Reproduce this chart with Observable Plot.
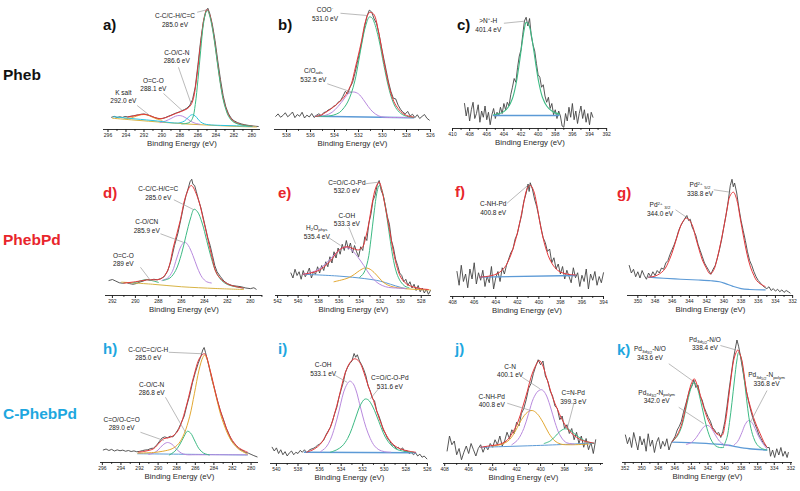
<!DOCTYPE html>
<html><head><meta charset="utf-8">
<script src="https://cdn.jsdelivr.net/npm/d3@7"></script>
<script src="https://cdn.jsdelivr.net/npm/@observablehq/plot@0.6"></script>
<style>
body{margin:0;background:#fff;font-family:"Liberation Sans",Arial,sans-serif;}
#root{position:relative;width:800px;height:491px;overflow:hidden;background:#fff;}
.pan{position:absolute;}
.row{position:absolute;font-weight:bold;font-size:15.5px;line-height:16px;white-space:nowrap;}
.let{position:absolute;font-weight:bold;font-size:15px;line-height:15px;}
.ann{position:absolute;font-size:6.5px;color:#222;text-align:center;line-height:8.5px;white-space:nowrap;transform:translate(-50%,-50%);}
.ann sub,.ann sup{font-size:4.4px;line-height:0;vertical-align:baseline;position:relative;}
.ann sub{top:1.4px;}
.ann sup{top:-2.6px;}
.ann sub sub{top:1px;font-size:3.8px;}
</style></head>
<body><div id="root"></div>
<script>
// ---------- colours ----------
const RAW = "#444444", FIT = "#e5383b", GREEN = "#3dba84", PURPLE = "#b98ade", CYAN = "#2cc3de", ORANGE = "#e3a832", BLUE = "#5c9ad6", YEL = "#d8b445";

// ---------- tick labels ----------
const a_ticks = [296,294,292,290,288,286,284,282,280];
const b_ticks = [538,536,534,532,530,528,526];
const c_ticks = [410,408,406,404,402,400,398,396,394,392];
const d_ticks = [292,290,288,286,284,282,280];
const e_ticks = [542,540,538,536,534,532,530,528];
const f_ticks = [408,406,404,402,400,398,396,394];
const g_ticks = [350,348,346,344,342,340,338,336,334,332];
const h_ticks = [296,294,292,290,288,286,284,282,280];
const i_ticks = [540,538,536,534,532,530,528,526];
const j_ticks = [408,406,404,402,400,398,396];
const k_ticks = [352,350,348,346,344,342,340,338,336,334,332];

// ---------- a) Pheb C1s ----------
const a_raw = [[295.6,9.8],[295.3,10.5],[295.0,9.6],[294.7,10.2],[294.4,9.7],[294.1,10.4],[293.8,10.1],[293.5,10.6],[293.2,10.9],[292.9,11.4],[292.6,11.8],[292.3,12.2],[292.0,12.4],[291.7,12.0],[291.4,11.3],[291.1,10.4],[290.8,9.5],[290.5,8.9],[290.2,8.6],[289.9,8.9],[289.6,9.6],[289.3,10.6],[289.0,11.4],[288.7,12.4],[288.4,13.3],[288.1,14.0],[287.8,15.0],[287.5,16.0],[287.2,17.2],[286.9,19.5],[286.6,24],[286.3,34],[286.0,52],[285.7,71],[285.4,86],[285.1,95],[284.9,97],[284.7,93],[284.4,84],[284.1,71],[283.8,55],[283.5,40],[283.2,27],[282.9,18],[282.6,12.5],[282.3,9],[282.0,7],[281.6,5.5],[281.2,4.5],[280.8,3.8],[280.4,3.3],[280.0,2.9],[279.6,2.6],[279.3,2.4]];
const a_fit = [[293.8,10.0],[293.2,10.8],[292.6,11.7],[292.0,12.2],[291.4,11.2],[290.8,9.6],[290.2,8.7],[289.6,9.5],[289.0,11.2],[288.4,13.0],[287.8,14.6],[287.2,16.6],[286.8,19.5],[286.5,25],[286.2,38],[285.9,56],[285.6,75],[285.3,90],[285.0,96],[284.7,92],[284.4,82],[284.1,68],[283.8,52],[283.5,37],[283.2,25],[282.9,17],[282.6,11.5],[282.2,7.5],[281.8,5.5],[281.2,4.0],[280.6,3.2],[280.0,2.8]];
const a_CC = [[287.8,4.5],[287.0,5.5],[286.6,9],[286.3,20],[286.0,40],[285.7,63],[285.4,84],[285.1,94],[284.9,95],[284.7,91],[284.4,81],[284.1,67],[283.8,51],[283.5,36],[283.2,24],[282.9,16],[282.6,10.5],[282.2,6.8],[281.8,5],[281.2,3.7],[280.6,3],[280.0,2.6]];
const a_CO = [[295.4,10.2],[293.0,8.5],[290.5,6.8],[288.6,5.2],[288.0,5.4],[287.5,6.8],[287.1,9.5],[286.8,11.5],[286.6,11.8],[286.3,10.8],[286.0,8.3],[285.7,6.0],[285.3,4.5],[284.8,3.8],[283.5,3.3],[282.0,3.0],[280.0,2.5]];
const a_OCO = [[290.2,5.5],[289.6,6.8],[289.0,8.8],[288.5,10.6],[288.1,11.2],[287.7,10.6],[287.2,8.6],[286.8,6.6],[286.3,5.0],[285.8,4.2]];
const a_K = [[294.2,8.7],[293.4,9.4],[292.8,10.8],[292.3,11.8],[292.0,12.0],[291.6,11.5],[291.1,10.0],[290.5,8.2],[290.0,7.4]];
const a_bg = [[295.5,9.0],[293.0,7.5],[290.0,5.8],[287.0,4.3],[284.0,3.2],[281.0,2.3],[279.5,2.0]];
const a_notes = [{E:288.5,u:87.2,t:"C-C/C-H/C=C<br>285.0 eV"},{E:288.3,u:58,t:"C-O/C-N<br>286.6 eV"},{E:290.9,u:35.6,t:"O=C-O<br>288.1 eV"},{E:294.24,u:26,t:"K salt<br>292.0 eV"}];
const a_lead = [[286.09,93.8,285.0,95.8],[288.17,49.8,286.76,20.6],[289.83,28.8,287.76,15.2],[292.76,19.2,291.5,12]];

// ---------- b) Pheb O1s ----------
const b_raw = [[538.9,10.5],[538.7,12.5],[538.5,9.8],[538.3,11.2],[538.1,13.4],[537.9,10.2],[537.7,11.8],[537.5,14.0],[537.3,9.5],[537.1,12.0],[536.9,10.6],[536.7,13.8],[536.5,9.2],[536.3,11.5],[536.1,10.0],[535.9,12.8],[535.7,9.6],[535.5,11.4],[535.3,12.6],[535.1,11.0],[534.9,13.5],[534.7,14.2],[534.5,15.8],[534.3,16.5],[534.1,18.5],[533.9,19.2],[533.7,21.8],[533.5,23.0],[533.3,26.5],[533.1,30.5],[532.9,28.8],[532.7,34.0],[532.5,37.5],[532.3,45.0],[532.1,53.5],[531.9,62.0],[531.7,71.5],[531.5,82.0],[531.3,90.5],[531.1,95.5],[530.9,94.0],[530.7,88.5],[530.5,85.0],[530.3,77.0],[530.1,66.5],[529.9,57.0],[529.7,47.5],[529.5,38.0],[529.3,30.5],[529.1,25.0],[528.9,24.5],[528.7,19.5],[528.5,16.2],[528.3,13.8],[528.1,12.5],[527.9,14.5],[527.7,10.8],[527.5,12.2],[527.3,9.5],[527.1,11.8],[526.9,8.8],[526.7,10.5],[526.5,12.0],[526.3,9.0],[526.1,7.5]];
const b_fit = [[535.6,10.5],[535.2,11.2],[534.6,14.5],[534.1,17.9],[533.6,22],[533.2,25.9],[532.9,30.5],[532.6,36.5],[532.25,50],[531.8,68.5],[531.4,87],[531.1,93.5],[530.75,92.5],[530.3,76.5],[529.9,55],[529.5,36.5],[529.2,26],[528.9,19.5],[528.5,14.5],[528.2,12.2],[527.8,10.6],[527.4,9.9]];
const b_COO = [[535.6,10.5],[534.5,10.8],[534.1,11.5],[533.6,13.5],[533.2,17.5],[532.9,22],[532.6,29],[532.3,39],[532.0,54],[531.7,70],[531.4,83],[531.1,90],[530.9,89.5],[530.7,86],[530.3,72],[529.9,52],[529.5,34],[529.2,24],[528.9,17.5],[528.5,13],[528.2,11.3],[527.8,10.1],[527.4,9.6]];
const b_Oads = [[535.6,10.5],[534.8,11.2],[534.2,13.8],[533.7,18.5],[533.2,24.5],[532.8,29],[532.4,30],[532.0,28.5],[531.6,24],[531.2,18.5],[530.8,14],[530.3,10.8],[529.8,9.8],[528.5,9.6],[527.4,9.5]];
const b_bg = [[535.6,10.6],[527.4,9.4]];
const b_notes = [{E:534.75,u:92,t:"COO<sup>-</sup><br>531.0 eV"},{E:535.72,u:43.2,t:"C/O<sub>ads</sub><br>532.5 eV"}];
const b_lead = [[533.5,93,531.28,91.2],[534.6,36.6,532.53,29.8]];

// ---------- c) Pheb N1s ----------
const c_raw = [[408.6,20],[408.4,10],[408.2,17],[408.0,6],[407.8,15],[407.6,21],[407.4,8],[407.2,12],[407.0,19],[406.8,5],[406.6,14],[406.4,9],[406.2,18],[406.0,7],[405.8,13],[405.6,3],[405.4,11],[405.2,16],[405.0,8],[404.8,13],[404.6,10],[404.4,17],[404.2,12],[404.0,20],[403.8,15],[403.6,21],[403.4,18],[403.2,27],[403.0,33],[402.8,40],[402.6,37],[402.4,49],[402.2,58],[402.0,63],[401.8,75],[401.6,86],[401.4,89],[401.2,82],[401.0,88],[400.8,74],[400.6,67],[400.4,62],[400.2,52],[400.0,43],[399.8,41],[399.6,33],[399.4,35],[399.2,26],[399.0,21],[398.8,25],[398.6,16],[398.4,20],[398.2,11],[398.0,15],[397.8,8],[397.6,14],[397.4,10],[397.2,2],[397.0,1],[396.8,12],[396.6,6],[396.4,17],[396.2,9],[396.0,20],[395.8,7],[395.6,14],[395.4,4],[395.2,12],[395.0,18],[394.8,8],[394.6,15],[394.4,5],[394.2,12],[394.0,3],[393.8,13],[393.6,9]];
const c_fit = [[405.2,11],[404.5,12],[404.0,13.5],[403.5,17],[403.0,24],[402.6,35],[402.2,52],[401.9,67],[401.6,80],[401.4,85],[401.1,83],[400.8,75],[400.5,62],[400.2,48],[399.9,36],[399.5,25],[399.0,18],[398.5,14.5],[398.0,12.5],[397.5,11.5]];
const c_bg = [[405.2,10.4],[397.6,10.4]];
const c_notes = [{E:405.76,u:82.4,t:"&gt;N<sup>+</sup>-H<br>401.4 eV"}];
const c_lead = [[404.0,84.2,401.67,85.8]];

// ---------- d) PhebPd C1s ----------
const d_raw = [[292.3,12],[292.0,12.8],[291.7,11.5],[291.4,10.2],[291.1,9.8],[290.8,10.4],[290.5,9.5],[290.2,9.0],[289.9,9.6],[289.6,10.8],[289.3,11.6],[289.0,12.8],[288.7,12.2],[288.4,13.0],[288.1,12.6],[287.8,13.5],[287.5,15.0],[287.2,19.5],[286.9,28],[286.6,40],[286.3,50],[286.0,63],[285.8,72],[285.6,80],[285.4,86],[285.25,91],[285.1,93],[285.0,89],[284.85,88],[284.7,83],[284.5,76],[284.3,70],[284.1,62],[283.9,54],[283.7,46],[283.5,40],[283.3,32],[283.1,24],[282.9,19],[282.6,15],[282.3,11.5],[282.0,9.5],[281.6,8],[281.2,7.5],[280.8,7],[280.4,6],[280.0,5.5],[279.7,6.2],[279.5,5.0]];
const d_fit = [[291.0,9.9],[290.0,11],[289.0,12.5],[287.8,13.3],[287.2,20],[286.7,38.7],[286.1,60],[285.65,78.7],[285.15,88],[284.6,78.7],[284.0,57],[283.4,33],[282.9,17],[282.0,9.3],[280.6,5.9]];
const d_CC = [[287.6,12],[287.0,14],[286.5,20],[286.0,33],[285.6,48],[285.2,62],[284.9,69],[284.6,67],[284.2,58],[283.8,44],[283.4,30],[283.0,19],[282.5,12],[282.0,8.8],[281.3,7],[280.6,6]];
const d_CO = [[287.7,12],[287.2,14],[286.8,19],[286.4,30],[286.0,40],[285.7,42.7],[285.4,40],[285.0,32],[284.6,22],[284.2,14.5],[283.8,11],[283.4,10]];
const d_OCO = [[290.2,10],[289.6,11.5],[289.1,12.8],[288.6,12],[288.0,10.5]];
const d_bg = [[291.2,10.7],[288.5,9],[286.0,7],[283.0,5.6],[280.6,4.8]];
const d_notes = [{E:287.97,u:81.4,t:"C-C/C-H/C=C<br>285.0 eV"},{E:288.97,u:55.2,t:"C-O/CN<br>285.9 eV"},{E:291.0,u:28.2,t:"O=C-O<br>289 eV"}];
const d_lead = [[286.66,76.6,284.92,68.6],[287.82,49.4,285.84,42.6],[289.56,22.6,288.69,12]];

// ---------- e) PhebPd O1s ----------
const e_raw = [[540.7,18],[540.5,14],[540.3,21],[540.1,16],[539.9,19],[539.7,13],[539.5,20],[539.3,15],[539.1,18],[538.9,22],[538.7,14],[538.5,19],[538.3,17],[538.1,23],[537.9,18],[537.7,24],[537.5,20],[537.3,27],[537.1,23],[536.9,31],[536.7,26],[536.5,35],[536.3,30],[536.1,38],[535.9,33],[535.7,41],[535.5,36],[535.3,44],[535.1,37],[534.9,42],[534.7,34],[534.5,40],[534.3,35],[534.1,31],[533.9,39],[533.7,36],[533.5,47],[533.3,44],[533.1,58],[532.9,65],[532.7,76],[532.5,80],[532.3,88],[532.1,92],[531.9,84],[531.7,80],[531.5,72],[531.3,63],[531.1,57],[530.9,44],[530.7,38],[530.5,29],[530.3,24],[530.1,18],[529.9,16],[529.7,11],[529.5,13],[529.3,8],[529.1,11],[528.9,6],[528.7,9],[528.5,4],[528.3,8],[528.1,3],[527.9,6],[527.7,2],[527.5,5],[527.3,1],[527.1,4]];
const e_fit = [[539.5,17],[538.8,18],[538.0,20],[537.5,22.7],[536.8,28],[536.2,34.7],[535.7,38],[535.2,39],[534.6,37.5],[534.1,36.5],[533.7,39],[533.4,46.7],[533.1,58],[532.8,73],[532.4,87],[532.1,90.7],[531.8,83],[531.5,70.7],[531.1,53],[530.8,38.7],[530.4,24],[530.0,14.7],[529.4,9],[528.7,6.7],[528.0,5.4],[527.3,4.8]];
const e_H2O = [[539.5,17],[538.5,19],[537.8,22],[537.0,28],[536.3,34],[535.7,38],[535.3,38.5],[534.8,36.5],[534.2,31],[533.6,24],[533.0,16.5],[532.4,11],[531.8,8],[531.2,6.5],[530.5,6],[529.5,5.5]];
const e_COH = [[536.5,11],[535.5,13],[535.0,14.5],[534.5,17],[534.0,20],[533.5,22],[533.1,21.5],[532.6,18.5],[532.1,14],[531.6,10],[531.0,7.5],[530.3,6.2],[529.3,5.3],[528.3,4.8],[527.1,4.4]];
const e_CO = [[534.0,14.5],[533.6,18],[533.2,28],[532.9,45],[532.6,66],[532.3,83],[532.1,88],[531.9,86],[531.6,76],[531.3,60],[531.0,43],[530.7,28],[530.4,18],[530.0,11],[529.6,7.5],[529.2,6.2]];
const e_bg = [[539.5,17],[536.0,15.5],[533.5,13.5],[532.0,11.5],[531.0,9],[530.0,6.5],[529.4,5.5]];
const e_notes = [{E:535.2,u:86.6,t:"C=O/C-O-Pd<br>532.0 eV"},{E:535.2,u:60.2,t:"C-OH<br>533.3 eV"},{E:538.13,u:50.4,t:"H<sub>2</sub>O<sub>phys</sub><br>535.4 eV"}];
const e_lead = [[533.42,89.4,532.22,90.6],[535.05,54.6,534.4,41.4],[537.0,46.2,535.86,40]];

// ---------- f) PhebPd N1s ----------
const f_raw = [[407.6,20],[407.4,9],[407.2,25],[407.0,12],[406.8,18],[406.6,7],[406.4,22],[406.2,14],[406.0,27],[405.8,10],[405.6,19],[405.4,13],[405.2,21],[405.0,8],[404.8,16],[404.6,11],[404.4,24],[404.2,6],[404.0,15],[403.8,20],[403.6,12],[403.4,23],[403.2,18],[403.0,25],[402.8,30],[402.6,35],[402.4,38],[402.2,46],[402.0,50],[401.8,58],[401.6,65],[401.4,76],[401.2,82],[401.0,90],[400.9,84],[400.8,91],[400.6,86],[400.4,78],[400.2,72],[400.0,64],[399.8,55],[399.6,47],[399.4,43],[399.2,36],[399.0,38],[398.8,27],[398.6,31],[398.4,22],[398.2,26],[398.0,18],[397.8,24],[397.6,14],[397.4,21],[397.2,16],[397.0,11],[396.8,23],[396.6,15],[396.4,19],[396.2,8],[396.0,17],[395.8,12],[395.6,22],[395.4,6],[395.2,18],[395.0,13],[394.8,20],[394.6,9],[394.4,16],[394.2,11],[394.0,19]];
const f_fit = [[405.5,15.5],[404.5,16.5],[403.8,18.5],[403.2,23],[402.7,31],[402.2,44],[401.8,58],[401.4,75],[401.1,86],[400.8,89],[400.5,85],[400.2,74],[399.9,59],[399.5,43],[399.0,30],[398.5,23],[398.0,19.5],[397.3,17.8],[396.6,17.2]];
const f_bg = [[405.5,15.5],[396.6,16.8]];
const f_notes = [{E:404.19,u:70.2,t:"C-NH-Pd<br>400.8 eV"}];
const f_lead = [[402.95,74.6,401.04,88.8]];

// ---------- g) PhebPd Pd3d ----------
const g_raw = [[351.0,24],[350.75,18],[350.5,21],[350.25,15],[350.0,19],[349.75,14],[349.5,20],[349.25,16],[349.0,13],[348.75,18],[348.5,15],[348.25,19],[348.0,16],[347.75,20],[347.5,18],[347.25,22],[347.0,21],[346.75,26],[346.5,28],[346.25,33],[346.0,37],[345.75,41],[345.5,46],[345.25,52],[345.0,56],[344.75,59],[344.5,62],[344.3,64],[344.1,60],[343.9,61],[343.7,55],[343.5,52],[343.25,48],[343.0,41],[342.75,36],[342.5,31],[342.25,26],[342.0,23],[341.75,20],[341.5,17],[341.25,21],[341.0,24],[340.75,30],[340.5,37],[340.25,45],[340.0,55],[339.75,64],[339.5,75],[339.25,88],[339.05,93],[338.9,87],[338.75,90],[338.5,82],[338.25,70],[338.0,60],[337.75,52],[337.5,44],[337.25,35],[337.0,28],[336.75,24],[336.5,19],[336.25,15],[336.0,12],[335.75,10],[335.5,8],[335.25,6.5],[335.0,5.5],[334.75,7],[334.5,4],[334.25,5.5],[334.0,3.5],[333.75,5],[333.5,3],[333.25,4.5],[333.0,2.5],[332.75,4],[332.5,3],[332.3,2]];
const g_fit = [[348.75,14.7],[348.0,15.5],[347.0,20],[346.3,29],[345.8,38.7],[345.3,50],[344.8,58.7],[344.3,62],[343.7,56.8],[343.3,47],[342.9,37.3],[342.5,28.5],[342.1,22.7],[341.6,17.3],[341.2,20],[340.8,28.8],[340.4,41],[340.0,54.7],[339.6,70],[339.3,79.5],[338.9,82.7],[338.5,76.8],[338.1,62],[337.7,46.7],[337.3,33],[336.9,22.7],[336.5,16],[336.2,12],[335.7,9],[335.2,7.2]];
const g_bg = [[348.75,14.7],[347.0,13.8],[345.0,13],[343.0,12.4],[341.5,11.8],[340.5,11],[339.8,9.5],[339.0,7.5],[338.0,5.5],[337.0,4.8],[335.2,4.5]];
const g_notes = [{E:342.71,u:84.6,t:"Pd<sup>2+</sup> <sub>5/2</sub><br>338.8 eV"},{E:347.36,u:68.6,t:"Pd<sup>2+</sup> <sub>3/2</sub><br>344.0 eV"}];
const g_lead = [[341.17,84.6,339.22,82.6],[345.62,68.6,344.26,62.2]];

// ---------- h) C-PhebPd C1s ----------
const h_raw = [[295.9,10],[295.6,10.8],[295.3,9.6],[295.0,10.5],[294.7,9.2],[294.4,10.1],[294.1,9.4],[293.8,9.9],[293.5,9.0],[293.2,9.6],[292.9,8.8],[292.6,9.3],[292.3,8.6],[292.0,8.9],[291.7,9.5],[291.4,10.0],[291.1,10.2],[290.8,11.2],[290.5,11.5],[290.2,13.5],[289.9,16.5],[289.6,19.5],[289.3,20.5],[289.0,19.8],[288.7,21.0],[288.4,20.5],[288.1,23.5],[287.8,27.0],[287.5,32.0],[287.2,37.0],[286.9,46.0],[286.6,54.0],[286.3,64.0],[286.0,72.0],[285.7,79.0],[285.4,85.0],[285.2,90.0],[285.05,92.0],[284.9,88.0],[284.7,82.0],[284.5,76.0],[284.2,66.0],[283.9,58.0],[283.6,49.0],[283.3,41.0],[283.0,35.0],[282.7,28.0],[282.4,23.0],[282.1,17.5],[281.8,15.0],[281.5,12.5],[281.2,10.5],[280.9,9.5],[280.6,8.0],[280.3,7.5],[280.0,6.5],[279.7,5.5],[279.35,4.5]];
const h_fit = [[292.1,8.3],[291.3,9.2],[290.5,11],[289.9,15.5],[289.4,19],[288.9,19.8],[288.5,20.8],[288.0,24],[287.6,29.6],[286.9,47],[286.2,68],[285.5,84],[285.0,87],[284.4,73.6],[283.7,52],[282.95,33.6],[282.2,20],[281.35,12],[280.4,8.3]];
const h_CC = [[292.2,7.5],[290.5,8],[289.5,9],[288.5,11],[287.8,15],[287.2,23],[286.6,37],[286.1,55],[285.6,74],[285.2,84],[285.0,86],[284.7,82],[284.3,70],[283.8,54],[283.3,39],[282.9,30],[282.4,21],[281.9,15],[281.3,10.5],[280.6,7.5],[280.4,6.5]];
const h_CO = [[288.8,6],[288.2,9],[287.7,14],[287.2,21],[286.85,25],[286.5,23.5],[286.1,18],[285.6,11],[285.1,7.5],[284.5,6]];
const h_OCO = [[291.0,6.5],[290.5,7.5],[290.0,10],[289.5,14],[289.0,16],[288.5,14.5],[288.0,10.5],[287.5,7.5],[287.0,6.3],[286.0,6.2],[283.0,6.2],[280.4,6.2]];
const h_bg = [[292.2,7],[286.0,6.5],[280.4,6.0]];
const h_notes = [{E:291.01,u:86.6,t:"C-C/C=C/C-H<br>285.0 eV"},{E:290.64,u:58.6,t:"C-O/C-N<br>286.8 eV"},{E:293.87,u:30.6,t:"C=O/O-C=O<br>289.0 eV"}];
const h_lead = [[288.86,88.2,285.26,87],[289.21,52.2,287.06,24.2],[291.9,24.2,289.39,17.6]];

// ---------- i) C-PhebPd O1s ----------
const i_raw = [[540.4,13],[540.2,10],[540.0,12.5],[539.8,8],[539.6,11],[539.4,7],[539.2,9.5],[539.0,6],[538.8,8.5],[538.6,10],[538.4,7],[538.2,9],[538.0,8],[537.8,10.5],[537.6,9],[537.4,11],[537.2,8.5],[537.0,10.5],[536.8,11.5],[536.6,12],[536.4,13],[536.2,14.5],[536.0,15.5],[535.8,17],[535.6,19],[535.4,23],[535.2,26],[535.0,29],[534.8,34],[534.6,40],[534.4,45],[534.2,53],[534.0,59],[533.8,65],[533.6,73],[533.4,77],[533.2,80],[533.0,82],[532.8,88],[532.65,85],[532.5,87],[532.3,82],[532.1,79],[531.9,75],[531.7,70],[531.5,62],[531.3,58],[531.1,52],[530.9,50],[530.7,42],[530.5,38],[530.3,33],[530.1,27],[529.9,24],[529.7,20],[529.5,18],[529.3,15],[529.1,14.5],[528.9,12],[528.7,13],[528.5,11],[528.3,12.5],[528.1,9.5],[527.9,10.5],[527.7,8],[527.5,9],[527.3,7],[527.1,8.5],[526.9,6],[526.7,7.5],[526.5,5],[526.3,6],[526.05,3.7]];
const i_fit = [[537.2,9],[536.5,11.5],[535.9,15.7],[535.5,21],[535.0,29],[534.6,40],[534.2,53],[533.9,64],[533.6,73],[533.2,80.5],[532.8,83.7],[532.5,83],[532.2,79.7],[531.9,73],[531.6,65],[531.3,57.5],[531.0,50.4],[530.7,42],[530.4,34.4],[530.0,26],[529.6,19.7],[529.0,14],[528.5,11.7],[527.8,10],[527.1,9]];
const i_COH = [[535.9,9.5],[535.4,13],[535.0,19],[534.6,29],[534.2,42],[533.9,53],[533.6,61],[533.2,65.9],[532.9,64],[532.6,58],[532.3,48],[532.0,38],[531.7,29],[531.3,20],[530.9,14],[530.5,11],[530.0,9.5],[529.4,9]];
const i_CO = [[535.0,9],[534.4,11],[533.9,14],[533.4,20],[533.0,28],[532.6,38],[532.2,47],[531.8,51.5],[531.5,51],[531.1,46],[530.7,38],[530.3,29],[529.9,21],[529.4,15],[528.9,11.5],[528.3,10],[527.3,9]];
const i_bg = [[537.4,9],[527.1,8.6]];
const i_notes = [{E:535.62,u:75,t:"C-OH<br>533.1 eV"},{E:529.44,u:64.6,t:"C=O/C-O-Pd<br>531.6 eV"}];
const i_lead = [[534.54,70.4,533.45,65],[530.53,59.8,531.3,51.8]];

// ---------- j) C-PhebPd N1s ----------
const j_raw = [[407.8,10],[407.6,22],[407.4,15],[407.2,18],[407.0,7],[406.8,12],[406.6,3],[406.4,9],[406.2,14],[406.0,8],[405.8,16],[405.6,11],[405.4,6],[405.2,12],[405.0,15],[404.8,9],[404.6,14],[404.4,11],[404.2,16],[404.0,13],[403.8,19],[403.6,15],[403.4,22],[403.2,14],[403.0,18],[402.8,25],[402.6,20],[402.4,27],[402.2,24],[402.0,33],[401.8,30],[401.6,40],[401.4,44],[401.2,51],[401.0,60],[400.8,64],[400.6,72],[400.4,78],[400.2,83],[400.0,79],[399.8,82],[399.6,70],[399.4,66],[399.2,58],[399.0,54],[398.8,46],[398.6,44],[398.4,35],[398.2,38],[398.0,28],[397.8,31],[397.6,24],[397.4,28],[397.2,19],[397.0,25],[396.8,16],[396.6,22],[396.4,13],[396.2,20],[396.0,11],[395.8,17],[395.6,8],[395.4,19]];
const j_fit = [[405.0,13],[404.2,14.2],[403.3,15.7],[402.8,18.5],[402.4,23.7],[401.9,33],[401.5,45],[401.1,58],[400.8,69],[400.4,78.5],[400.1,82.4],[399.8,78],[399.6,71.8],[399.3,62.5],[399.0,53],[398.6,43.5],[398.3,37],[397.9,30],[397.5,25],[397.0,21],[396.5,18.4],[395.55,16.3]];
const j_CNH = [[404.0,14],[403.2,15.5],[402.6,19],[402.1,26],[401.6,35],[401.1,41],[400.7,42.4],[400.3,40],[399.8,33],[399.3,24],[398.8,18],[398.3,15.5],[397.5,15],[396.0,15.5]];
const j_CN = [[402.4,15],[401.9,19],[401.4,28],[401.0,40],[400.6,52],[400.2,58],[399.9,59],[399.6,56],[399.2,46],[398.8,33],[398.4,23],[397.9,17],[397.2,15.5]];
const j_CNPd = [[399.7,16],[399.2,18],[398.8,21.5],[398.4,25.5],[398.0,27.7],[397.6,27],[397.2,24],[396.8,21],[396.3,18],[395.55,16]];
const j_bg = [[405.0,13],[400.0,14.5],[395.55,16.3]];
const j_notes = [{E:402.5,u:73.8,t:"C-N<br>400.1 eV"},{E:404.03,u:49.8,t:"C-NH-Pd<br>400.8 eV"},{E:397.23,u:52.6,t:"C=N-Pd<br>399.3 eV"}];
const j_lead = [[401.53,69,400.06,59.8],[402.78,48.2,400.83,42.4],[397.23,47.8,397.78,27.8]];

// ---------- k) C-PhebPd Pd3d ----------
const k_raw = [[351.95,22],[351.7,15],[351.45,20],[351.2,12],[350.95,24],[350.7,17],[350.45,10],[350.2,21],[349.95,14],[349.7,19],[349.45,9],[349.2,23],[348.95,13],[348.7,18],[348.45,8],[348.2,16],[347.95,20],[347.7,11],[347.45,17],[347.2,13],[346.95,19],[346.7,10],[346.45,15],[346.2,18],[345.95,21],[345.7,26],[345.45,29],[345.2,33],[344.95,40],[344.7,46],[344.45,52],[344.2,58],[343.95,61],[343.7,66],[343.45,60],[343.2,62],[342.95,53],[342.7,50],[342.45,44],[342.2,40],[341.95,36],[341.7,33],[341.45,28],[341.2,26],[340.95,23],[340.7,24],[340.45,20],[340.2,25],[339.95,33],[339.7,45],[339.45,58],[339.2,70],[338.95,82],[338.7,91],[338.5,98],[338.3,93],[338.1,86],[337.85,76],[337.6,66],[337.35,57],[337.1,49],[336.85,42],[336.6,36],[336.35,31],[336.1,27],[335.85,22],[335.6,19],[335.35,16],[335.1,14],[334.85,12],[334.6,12],[334.45,5],[334.2,10],[333.95,4],[333.7,11],[333.45,6],[333.2,12],[332.95,5],[332.7,9],[332.45,4],[332.3,8]];
const k_fit = [[346.35,16.3],[345.7,22],[345.15,31],[344.75,42],[344.35,55],[343.95,64],[343.65,67],[343.3,62],[342.9,53.6],[342.5,44],[342.1,36],[341.6,29],[341.1,24],[340.7,22],[340.3,21.6],[339.9,32],[339.5,52],[339.2,68],[338.9,81.6],[338.6,88],[338.4,90],[338.15,87],[337.9,81.6],[337.6,69],[337.3,55],[336.9,45],[336.5,36],[336.1,29],[335.7,23],[335.3,17],[334.9,12.3]];
const k_NO1 = [[346.35,16.3],[345.7,21],[345.15,29],[344.75,40],[344.35,52],[343.95,61],[343.65,64],[343.3,60],[342.9,50],[342.5,38],[342.1,27],[341.6,18],[341.1,13.5],[340.6,12],[340.1,12]];
const k_NO2 = [[340.1,13],[339.7,20],[339.4,32],[339.1,48],[338.8,66],[338.5,82],[338.3,88],[338.05,85],[337.8,76],[337.5,60],[337.2,43],[336.9,30],[336.5,20],[336.1,14.5],[335.6,11.5],[334.9,10]];
const k_NP1 = [[344.6,14.5],[344.0,16],[343.4,20],[342.9,25],[342.4,29],[342.0,29.6],[341.6,27.5],[341.1,22],[340.6,17],[340.1,14.5],[339.5,13.5]];
const k_NP2 = [[338.9,13.5],[338.4,17],[337.9,24],[337.5,30.5],[337.1,33.6],[336.7,32],[336.3,27],[335.9,21],[335.4,15.5],[334.9,11]];
const k_bg = [[346.35,16.3],[343.0,15.5],[340.5,14.5],[339.5,13.8],[338.5,12.5],[337.0,11],[334.9,10]];
const k_notes = [{E:342.3,u:94.6,t:"Pd<sub>3d<sub>5/2</sub></sub>-N/O<br>338.4 eV"},{E:348.93,u:87,t:"Pd<sub>3d<sub>3/2</sub></sub>-N/O<br>343.6 eV"},{E:348.12,u:52.2,t:"Pd<sub>3d<sub>3/2</sub></sub>-N<sub>polym</sub><br>342.0 eV"},{E:334.87,u:66.2,t:"Pd<sub>3d<sub>5/2</sub></sub>-N<sub>polym</sub><br>336.8 eV"}];
const k_lead = [[340.49,93.6,338.69,90.2],[346.72,79,343.9,65.6],[345.52,44.2,342.5,31],[334.87,57.6,336.88,32.2]];

// ---------- row / panel labels ----------
const rows = [{t:"Pheb",c:"#111",y:75},{t:"PhebPd",c:"#e8252b",y:240},{t:"C-PhebPd",c:"#1ea7df",y:414}];

// ---------- layout ----------
const panels = [
  {id:"a)",lc:"#111",lx:103,ly:25,left:103,right:260,yAxis:129,domain:[296.5,279.05],ticks:a_ticks,notes:a_notes,lead:a_lead,
   series:[{d:a_raw,c:RAW,w:0.9,raw:1},{d:a_bg,c:YEL},{d:a_K,c:ORANGE},{d:a_OCO,c:PURPLE},{d:a_CO,c:CYAN},{d:a_fit,c:FIT},{d:a_CC,c:GREEN}]},
  {id:"b)",lc:"#111",lx:278,ly:25,left:274,right:430,yAxis:129,domain:[539,526],ticks:b_ticks,notes:b_notes,lead:b_lead,
   series:[{d:b_raw,c:RAW,w:0.9,raw:1},{d:b_bg,c:BLUE,w:1.6},{d:b_Oads,c:PURPLE},{d:b_COO,c:GREEN},{d:b_fit,c:FIT}]},
  {id:"c)",lc:"#111",lx:457,ly:25,left:452,right:607,yAxis:128,domain:[410,391.9],ticks:c_ticks,notes:c_notes,lead:c_lead,
   series:[{d:c_raw,c:RAW,w:0.9,raw:1},{d:c_bg,c:BLUE,w:1.6},{d:c_fit,c:GREEN,w:1.1}]},
  {id:"d)",lc:"#e8252b",lx:103,ly:193,left:105,right:262,yAxis:295,domain:[292.6,278.95],ticks:d_ticks,notes:d_notes,lead:d_lead,
   series:[{d:d_raw,c:RAW,w:0.9,raw:1},{d:d_bg,c:YEL},{d:d_OCO,c:GREEN},{d:d_CO,c:PURPLE},{d:d_CC,c:GREEN},{d:d_fit,c:FIT}]},
  {id:"e)",lc:"#e8252b",lx:278,ly:193,left:275,right:431,yAxis:295,domain:[542.2,527.0],ticks:e_ticks,notes:e_notes,lead:e_lead,
   series:[{d:e_raw,c:RAW,w:0.9,raw:1},{d:e_bg,c:BLUE},{d:e_COH,c:ORANGE},{d:e_H2O,c:PURPLE},{d:e_CO,c:GREEN},{d:e_fit,c:FIT}]},
  {id:"f)",lc:"#e8252b",lx:455,ly:192,left:450,right:603,yAxis:296,domain:[408.2,394.0],ticks:f_ticks,notes:f_notes,lead:f_lead,
   series:[{d:f_raw,c:RAW,w:0.9,raw:1},{d:f_bg,c:BLUE,w:1.3},{d:f_fit,c:FIT}]},
  {id:"g)",lc:"#e8252b",lx:617,ly:193,left:627,right:793,yAxis:295,domain:[351.2,331.9],ticks:g_ticks,notes:g_notes,lead:g_lead,
   series:[{d:g_raw,c:RAW,w:0.9,raw:1},{d:g_bg,c:BLUE,w:1.2},{d:g_fit,c:FIT}]},
  {id:"h)",lc:"#1ea7df",lx:103,ly:349,left:100,right:258,yAxis:462,domain:[296.2,279.2],ticks:h_ticks,notes:h_notes,lead:h_lead,
   series:[{d:h_raw,c:RAW,w:0.9,raw:1},{d:h_bg,c:BLUE},{d:h_OCO,c:PURPLE},{d:h_CO,c:GREEN},{d:h_CC,c:ORANGE},{d:h_fit,c:FIT}]},
  {id:"i)",lc:"#1ea7df",lx:278,ly:349,left:270,right:428,yAxis:463,domain:[540.55,525.9],ticks:i_ticks,notes:i_notes,lead:i_lead,
   series:[{d:i_raw,c:RAW,w:0.9,raw:1},{d:i_bg,c:BLUE,w:1.5},{d:i_COH,c:PURPLE},{d:i_CO,c:GREEN},{d:i_fit,c:FIT}]},
  {id:"j)",lc:"#1ea7df",lx:455,ly:349,left:443,right:603,yAxis:463,domain:[408.1,394.75],ticks:j_ticks,notes:j_notes,lead:j_lead,
   series:[{d:j_raw,c:RAW,w:0.9,raw:1},{d:j_bg,c:BLUE},{d:j_CNH,c:ORANGE},{d:j_CN,c:PURPLE},{d:j_CNPd,c:GREEN},{d:j_fit,c:FIT}]},
  {id:"k)",lc:"#1ea7df",lx:617,ly:350,left:622,right:792,yAxis:462,domain:[352.3,331.8],ticks:k_ticks,notes:k_notes,lead:k_lead,
   series:[{d:k_raw,c:RAW,w:0.9,raw:1},{d:k_bg,c:BLUE,w:1.3},{d:k_NP1,c:PURPLE},{d:k_NP2,c:PURPLE},{d:k_NO1,c:GREEN},{d:k_NO2,c:GREEN},{d:k_fit,c:FIT}]}
];

const root = document.getElementById("root");
const H = 125, MB = 28;

for (const r of rows) {
  const el = document.createElement("div");
  el.className = "row"; el.textContent = r.t; el.style.color = r.c;
  el.style.left = "3px"; el.style.top = (r.y - 8) + "px";
  root.appendChild(el);
}

for (const p of panels) {
  const W = p.right - p.left;
  const lo = Math.min(...p.domain), hi = Math.max(...p.domain);
  const minor = p.ticks.map(t => t - 1).filter(t => t > lo && t < hi);
  const marks = [
    Plot.ruleY([0], {stroke: "#1a1a1a", strokeWidth: 0.9}),
    Plot.axisX({ticks: minor, tickSize: 1.8, tickFormat: () => "", color: "#1a1a1a"}),
    Plot.axisX({ticks: p.ticks, tickSize: 3, tickPadding: 1.2, tickFormat: d => String(d), fontSize: 5, color: "#222"}),
    Plot.text(["Binding Energy (eV)"], {frameAnchor: "bottom", dy: 16.5, fontSize: 7.8, fill: "#2a2a2a"})
  ];
  for (const s of p.series) {
    marks.push(Plot.line(s.d, {x: d => d[0], y: d => d[1], stroke: s.c, strokeWidth: s.w || 1, curve: s.raw ? "linear" : "catmull-rom"}));
  }
  marks.push(Plot.link(p.lead, {x1: d => d[0], y1: d => d[1], x2: d => d[2], y2: d => d[3], stroke: "#8c8c8c", strokeWidth: 0.6}));
  const svg = Plot.plot({
    width: W, height: H + MB,
    marginLeft: 0, marginRight: 0, marginTop: 0, marginBottom: MB,
    x: {domain: p.domain},
    y: {domain: [0, 100], axis: null},
    style: {overflow: "visible", background: "transparent", fontFamily: "Liberation Sans, Arial, sans-serif"},
    marks
  });
  const wrap = document.createElement("div");
  wrap.className = "pan";
  wrap.style.left = p.left + "px";
  const top = p.yAxis - H;
  wrap.style.top = top + "px";
  wrap.appendChild(svg);
  root.appendChild(wrap);
  const xs = svg.scale("x"), ys = svg.scale("y");
  for (const n of p.notes) {
    const el = document.createElement("div");
    el.className = "ann";
    el.innerHTML = n.t;
    el.style.left = (p.left + xs.apply(n.E)) + "px";
    el.style.top = (top + ys.apply(n.u)) + "px";
    root.appendChild(el);
  }
  const lab = document.createElement("div");
  lab.className = "let"; lab.textContent = p.id; lab.style.color = p.lc;
  lab.style.left = p.lx + "px"; lab.style.top = (p.ly - 8) + "px";
  root.appendChild(lab);
}
</script></body></html>
